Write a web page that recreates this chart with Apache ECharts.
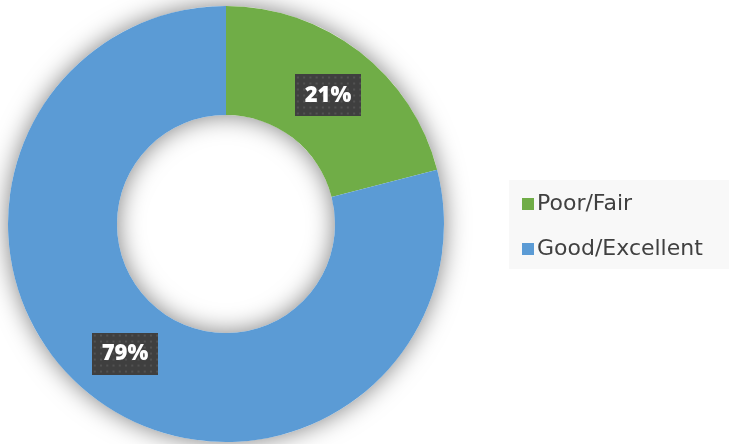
<!DOCTYPE html>
<html>
<head>
<meta charset="utf-8">
<script src="https://cdn.jsdelivr.net/npm/echarts@6/dist/echarts.min.js"></script>
<style>
  html, body { margin: 0; padding: 0; background: #ffffff; }
  #chart { width: 729px; height: 444px; }
</style>
</head>
<body>
<div id="chart"></div>
<script>
// Ratings split
const categories = ['Poor/Fair', 'Good/Excellent'];
const shares = [21, 79];
const colors = ['#70ad47', '#5b9bd5'];

// Dark dotted tile used behind the percentage labels
function dottedTile(w, h) {
  const c = document.createElement('canvas');
  c.width = w; c.height = h;
  const g = c.getContext('2d');
  g.fillStyle = '#3f3f3f';
  g.fillRect(0, 0, w, h);
  g.fillStyle = '#525252';
  for (let y = 2; y < h; y += 6) {
    for (let x = 2; x < w; x += 6) {
      g.fillRect(x, y, 2, 2);
    }
  }
  return c;
}
const tile = dottedTile(64, 42);

// nudges that pull each label slightly toward the ring's centre line
const labelNudge = [[0, 3], [1, -2]];

const chart = echarts.init(document.getElementById('chart'), null, { renderer: 'canvas' });

const center = [226, 224];
const radius = [109, 218];

chart.setOption({
  animation: false,
  backgroundColor: '#ffffff',
  legend: {
    orient: 'vertical',
    left: 509,
    top: 180,
    padding: [11, 30, 7, 13],
    backgroundColor: '#f8f8f8',
    itemWidth: 12,
    itemHeight: 12,
    itemGap: 19,
    icon: 'rect',
    data: categories,
    textStyle: {
      fontFamily: 'DejaVu Sans',
      fontSize: 22,
      color: '#404040',
      padding: [0, 0, 0, -2],
      lineHeight: 26
    }
  },
  series: [
    {
      // soft shadow ring behind the donut
      type: 'pie',
      silent: true,
      center: center,
      radius: radius,
      label: { show: false },
      labelLine: { show: false },
      itemStyle: {
        color: '#ffffff',
        shadowBlur: 24,
        shadowColor: 'rgba(0,0,0,0.5)'
      },
      data: [{ name: '', value: 1 }]
    },
    {
      type: 'pie',
      center: center,
      radius: radius,
      startAngle: 90,
      clockwise: true,
      silent: true,
      itemStyle: { borderWidth: 0 },
      label: {
        show: true,
        position: 'inside',
        formatter: '{d}%',
        fontFamily: 'Open Sans',
        fontWeight: 800,
        fontSize: 22,
        color: '#ffffff',
        lineHeight: 24,
        padding: [9, 10, 9, 10],
        backgroundColor: { image: tile },
        shadowBlur: 6,
        shadowOffsetX: 4,
        shadowOffsetY: 4,
        shadowColor: 'rgba(0,0,0,0.45)'
      },
      labelLine: { show: false },
      data: categories.map((name, i) => ({
        name: name,
        value: shares[i],
        itemStyle: { color: colors[i] },
        label: { offset: labelNudge[i] }
      }))
    }
  ]
});
</script>
</body>
</html>
